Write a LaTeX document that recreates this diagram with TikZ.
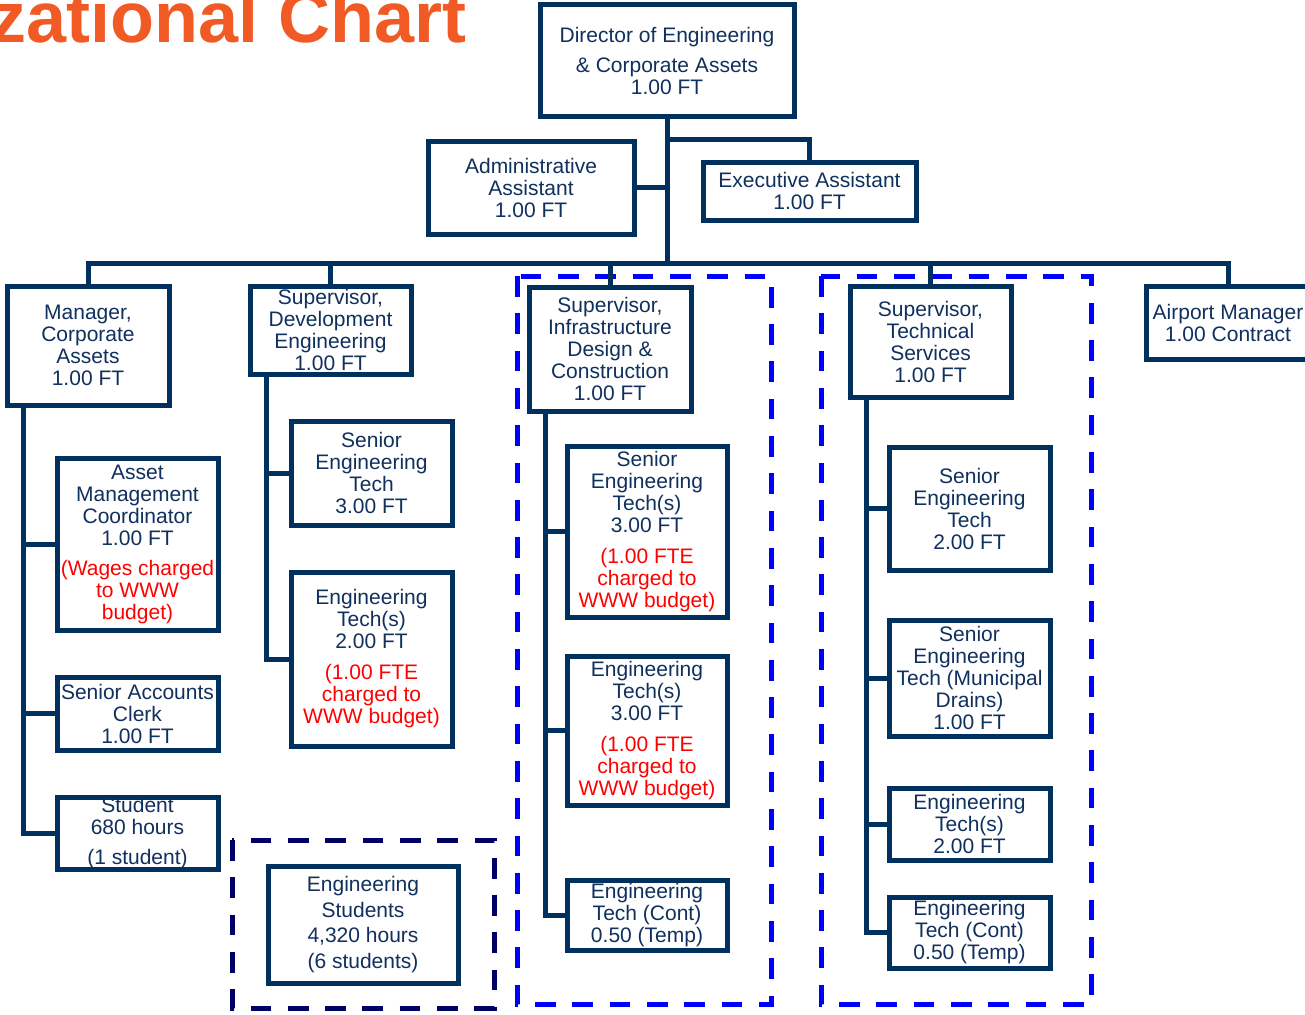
\documentclass[tikz,border=0pt]{standalone}
\usepackage{fontspec}
\setmainfont{Liberation Sans}
\definecolor{navy}{RGB}{0,48,94}
\definecolor{txt}{RGB}{16,48,94}
\definecolor{orng}{RGB}{241,90,36}
\definecolor{dnavy}{RGB}{0,0,100}
\definecolor{blu}{RGB}{0,0,255}
\newcommand{\rd}[1]{\textcolor{red}{#1}}
\begin{document}
\begin{tikzpicture}[x=1pt,y=-1pt,
  box/.style={draw=navy, line width=5pt, fill=white, inner sep=0pt, align=center, text=txt, font=\fontsize{21}{22}\selectfont},
  link/.style={draw=navy, line width=5pt},
  grp/.style={line width=5pt, dash pattern=on 20.7pt off 16.6pt}]
\clip (0,0) rectangle (1305,1014);
\fill[white] (0,0) rectangle (1305,1014);

% title
\node[anchor=base east, inner sep=0pt, text=orng, font=\fontsize{72}{80}\selectfont\bfseries] (title) at (467,43) {zational Chart};

% group frames
\draw[grp, draw=dnavy] (232,840) rectangle (494,1008);
\draw[grp, draw=blu] (517,276) rectangle (771,1004);
\draw[grp, draw=blu] (821,276) rectangle (1091,1004);

% top level
\node[box, minimum width=254, minimum height=112] (dir) at (667,61) {Director of Engineering\\[8pt]\& Corporate Assets\\1.00 FT};
\node[box, minimum width=206, minimum height=93] (adm) at (531,187.5) {Administrative\\Assistant\\1.00 FT};
\node[box, minimum width=213, minimum height=58] (ex) at (809.5,191) {Executive Assistant\\1.00 FT};

% second level
\node[box, minimum width=162, minimum height=119] (mgr) at (88,345.5) {Manager,\\Corporate\\Assets\\1.00 FT};
\node[box, minimum width=161, minimum height=88] (dev) at (330.5,330) {Supervisor,\\Development\\Engineering\\1.00 FT};
\node[box, minimum width=162, minimum height=124] (inf) at (610,349) {Supervisor,\\Infrastructure\\Design \&\\Construction\\1.00 FT};
\node[box, minimum width=161, minimum height=111] (tech) at (930.5,341.5) {Supervisor,\\Technical\\Services\\1.00 FT};
\node[box, minimum width=164, minimum height=73] (air) at (1228,322.5) {Airport Manager\\1.00 Contract};

% corporate assets
\node[box, minimum width=161, minimum height=172] (ast) at (137.5,544) {Asset\\Management\\Coordinator\\1.00 FT\\[8pt]\rd{(Wages charged}\\\rd{to WWW}\\\rd{budget)}};
\node[box, minimum width=161, minimum height=73] (acc) at (137.5,713.5) {Senior Accounts\\Clerk\\1.00 FT};
\node[box, minimum width=161, minimum height=72] (stu) at (137.5,833) {Student\\680 hours\\[8pt](1 student)};

% development
\node[box, minimum width=161, minimum height=104] (dsr) at (371.5,473) {Senior\\Engineering\\Tech\\3.00 FT};
\node[box, minimum width=161, minimum height=174] (deng) at (371.5,659) {Engineering\\Tech(s)\\2.00 FT\\[9pt]\rd{(1.00 FTE}\\\rd{charged to}\\\rd{WWW budget)}};
\node[box, minimum width=190, minimum height=117, font=\fontsize{21}{25.7}\selectfont] (estu) at (363,924.5) {Engineering\\Students\\4,320 hours\\(6 students)};

% infrastructure
\node[box, minimum width=160, minimum height=171] (isr) at (647,531.5) {Senior\\Engineering\\Tech(s)\\3.00 FT\\[9pt]\rd{(1.00 FTE}\\\rd{charged to}\\\rd{WWW budget)}};
\node[box, minimum width=160, minimum height=149] (ieng) at (647,730.5) {Engineering\\Tech(s)\\3.00 FT\\[9pt]\rd{(1.00 FTE}\\\rd{charged to}\\\rd{WWW budget)}};
\node[box, minimum width=160, minimum height=70] (icont) at (647,915) {Engineering\\Tech (Cont)\\0.50 (Temp)};

% technical services
\node[box, minimum width=161, minimum height=123] (tsr) at (969.5,508.5) {Senior\\Engineering\\Tech\\2.00 FT};
\node[box, minimum width=161, minimum height=116] (tmun) at (969.5,678) {Senior\\Engineering\\Tech (Municipal\\Drains)\\1.00 FT};
\node[box, minimum width=161, minimum height=72] (teng) at (969.5,824) {Engineering\\Tech(s)\\2.00 FT};
\node[box, minimum width=161, minimum height=71] (tcont) at (969.5,932.5) {Engineering\\Tech (Cont)\\0.50 (Temp)};

% connectors
\coordinate (busL) at (88,263);
\coordinate (exj) at (0,139);
\coordinate (s1) at (23,0);
\coordinate (s2) at (266,0);
\coordinate (s3) at (545,0);
\coordinate (s4) at (866,0);

\draw[link] (dir.south) -- (dir.south |- busL);
\draw[link] (adm.east) -- (adm.east -| dir.south);
\draw[link] (dir.south |- exj) -- (ex.north |- exj) -- (ex.north);
\draw[link] (mgr.north) -- (mgr.north |- busL) -- (air.north |- busL) -- (air.north);
\draw[link] (dev.north |- busL) -- (dev.north);
\draw[link] (inf.north |- busL) -- (inf.north);
\draw[link] (tech.north |- busL) -- (tech.north);

\draw[link] (mgr.south -| s1) -- (stu.west -| s1) -- (stu.west);
\draw[link] (ast.west -| s1) -- (ast.west);
\draw[link] (acc.west -| s1) -- (acc.west);

\draw[link] (dev.south -| s2) -- (deng.west -| s2) -- (deng.west);
\draw[link] (dsr.west -| s2) -- (dsr.west);

\draw[link] (inf.south -| s3) -- (icont.west -| s3) -- (icont.west);
\draw[link] (isr.west -| s3) -- (isr.west);
\draw[link] (ieng.west -| s3) -- (ieng.west);

\draw[link] (tech.south -| s4) -- (tcont.west -| s4) -- (tcont.west);
\draw[link] (tsr.west -| s4) -- (tsr.west);
\draw[link] (tmun.west -| s4) -- (tmun.west);
\draw[link] (teng.west -| s4) -- (teng.west);
\end{tikzpicture}
\end{document}
